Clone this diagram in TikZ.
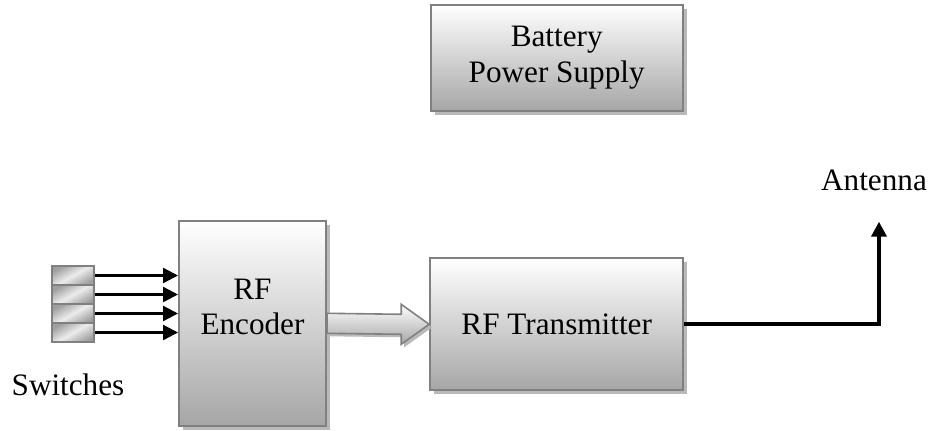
\documentclass[tikz,border=0pt]{standalone}
\usepackage{fontspec}
\setmainfont{Liberation Serif}
\usepackage{tikz}
\usetikzlibrary{arrows.meta, positioning, shadows, calc}
\definecolor{edge}{RGB}{128, 128, 128}
\definecolor{shade}{RGB}{166, 166, 166}

\begin{document}
\begin{tikzpicture}[
			x=0.5pt, y=-0.5pt,
			font=\fontsize{15.6}{17.8}\selectfont,
			box/.style={rectangle, draw=edge, line width=1pt, top color=white, bottom color=shade, align=center, inner sep=0pt, drop shadow={shadow xshift=2pt, shadow yshift=-2pt, fill=gray!55, opacity=1}},
			switch/.style={rectangle, draw=edge, line width=1pt, minimum width=21pt, minimum height=9.5pt, inner sep=0pt, shading=axis, left color=gray!75, right color=gray!75, middle color=gray!15, shading angle=30},
			sig/.style={line width=1.2pt, -{Triangle[length=7.5pt, width=7.5pt]}},
			fat/.style={draw=edge, line width=0.8pt, top color=white, bottom color=shade, drop shadow={shadow xshift=1.5pt, shadow yshift=-1.5pt, fill=gray!55, opacity=1}}
			]
			\useasboundingbox (0,0) rectangle (934,430);
			
			% Supply
			\node[box, minimum width=126pt, minimum height=53pt] (bat) at (556.7,57.8) {Battery\\Power Supply};
			
			% Encoder and transmitter
			\node[box, minimum width=73.5pt, minimum height=102.5pt] (enc) at (252.5,323.3) {};
			\node[align=center] (enctext) at (252.5,307) {RF\\Encoder};
			\node[box, minimum width=126.5pt, minimum height=66pt] (tx) at (556.7,324.3) {RF Transmitter};
			
			% Switches
			\foreach \i/\y in {1/275.5, 2/294.5, 3/313.5, 4/332.5}{
				\node[switch] (sw\i) at (73,\y) {};
				\draw[sig] (sw\i.east) -- (enc.west |- sw\i.east);
			}
			\node (swtext) at (68,385) {Switches};
			
			% Data path
			\path[fat] ([yshift=5pt]enc.east) -- ([xshift=-14pt, yshift=5pt]tx.west) -- ([xshift=-14pt, yshift=10pt]tx.west) -- (tx.west) -- ([xshift=-14pt, yshift=-10pt]tx.west) -- ([xshift=-14pt, yshift=-5pt]tx.west) -- ([yshift=-5pt]enc.east) -- cycle;
			
			% Antenna
			\coordinate (ant) at (879,221.7);
			\node (anttext) at (874,180) {Antenna};
			\draw[line width=2pt, -{Triangle[length=7.5pt, width=7.5pt]}] (tx.east) -| (ant);
		\end{tikzpicture}
\end{document}
